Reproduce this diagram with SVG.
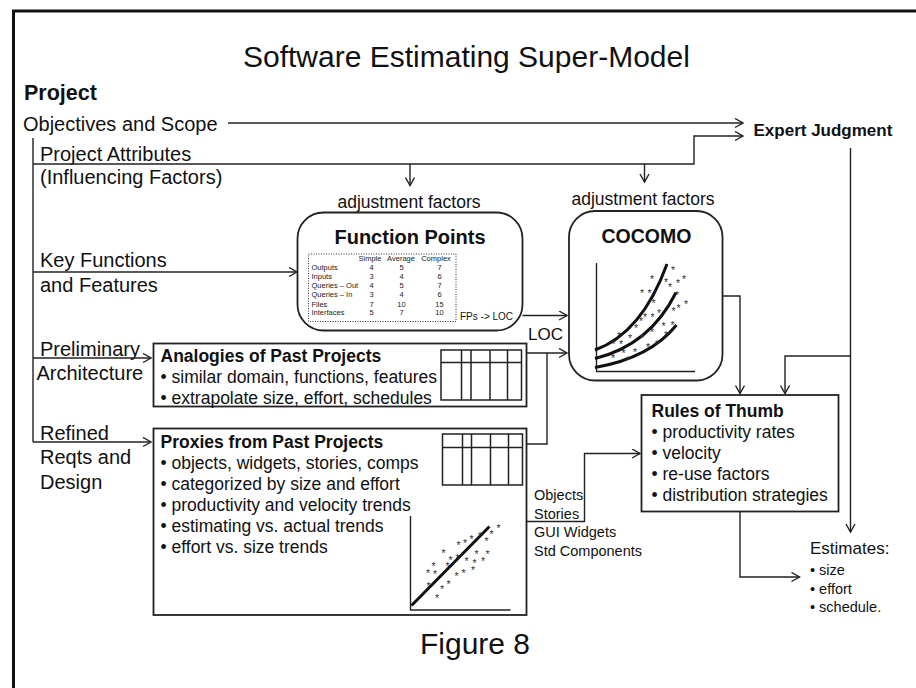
<svg xmlns="http://www.w3.org/2000/svg" width="916" height="688" viewBox="0 0 916 688">
<style>
text{font-family:"Liberation Sans",Arial,sans-serif;fill:#111}
.b{font-weight:bold}
.lbl{font-size:20px}
.body{font-size:17.5px}
.tbl{font-size:7.5px;fill:#222}
.st{font-size:10.5px;fill:#333}
.conn path{fill:none;stroke:#222;stroke-width:1.4}
.box{fill:#fff;stroke:#222;stroke-width:1.8}
.grid{fill:none;stroke:#222;stroke-width:1.5}
.axis{fill:none;stroke:#222;stroke-width:1.4}
.curve{fill:none;stroke:#111;stroke-width:3}
</style>
<defs>
<marker id="arr" markerUnits="userSpaceOnUse" markerWidth="12" markerHeight="12" refX="9" refY="5" orient="auto">
<path d="M1,0.5 L9,5 L1,9.5" fill="none" stroke="#222" stroke-width="1.4"/>
</marker>
</defs>
<rect width="916" height="688" fill="#fff"/>
<rect x="13.5" y="11" width="930" height="700" fill="none" stroke="#111" stroke-width="3"/>

<g id="title"><text x="243" y="67" style="font-size:30px">Software Estimating Super-Model</text></g>
<g id="figure"><text x="420" y="654" style="font-size:30px">Figure 8</text></g>

<g id="project">
<text x="24" y="100" class="b" style="font-size:21.5px">Project</text>
<text x="23" y="131" class="lbl">Objectives and Scope</text>
<text x="40" y="161" class="lbl">Project Attributes</text>
<text x="40" y="184" class="lbl">(Influencing Factors)</text>
<text x="40" y="267" class="lbl">Key Functions</text>
<text x="40" y="292" class="lbl">and Features</text>
<text x="40" y="356" class="lbl">Preliminary</text>
<text x="36.5" y="380" class="lbl">Architecture</text>
<text x="40" y="440" class="lbl">Refined</text>
<text x="40" y="464" class="lbl">Reqts and</text>
<text x="40" y="489" class="lbl">Design</text>
</g>

<g id="expert"><text x="753.5" y="136" class="b" style="font-size:17px">Expert Judgment</text></g>

<g id="function-points">
<text x="409" y="207.5" text-anchor="middle" style="font-size:17.5px">adjustment factors</text>
<rect x="297.5" y="212.5" width="225" height="118" rx="26" class="box"/>
<text x="410" y="243.5" text-anchor="middle" class="b" style="font-size:20px">Function Points</text>
<rect x="308.5" y="254" width="147.5" height="67.5" fill="none" stroke="#333" stroke-width="1" stroke-dasharray="1,1.5"/>
<g>
<text x="370" y="261" text-anchor="middle" class="tbl">Simple</text>
<text x="401" y="261" text-anchor="middle" class="tbl">Average</text>
<text x="436" y="261" text-anchor="middle" class="tbl">Complex</text>
<text x="311.5" y="270" class="tbl">Outputs</text>
<text x="311.5" y="279" class="tbl">Inputs</text>
<text x="311.5" y="288" class="tbl">Queries – Out</text>
<text x="311.5" y="297" class="tbl">Queries – In</text>
<text x="311.5" y="306.5" class="tbl">Files</text>
<text x="311.5" y="315" class="tbl">Interfaces</text>
<text x="371.5" y="270" text-anchor="middle" class="tbl">4</text><text x="401.5" y="270" text-anchor="middle" class="tbl">5</text><text x="439.5" y="270" text-anchor="middle" class="tbl">7</text>
<text x="371.5" y="279" text-anchor="middle" class="tbl">3</text><text x="401.5" y="279" text-anchor="middle" class="tbl">4</text><text x="439.5" y="279" text-anchor="middle" class="tbl">6</text>
<text x="371.5" y="288" text-anchor="middle" class="tbl">4</text><text x="401.5" y="288" text-anchor="middle" class="tbl">5</text><text x="439.5" y="288" text-anchor="middle" class="tbl">7</text>
<text x="371.5" y="297" text-anchor="middle" class="tbl">3</text><text x="401.5" y="297" text-anchor="middle" class="tbl">4</text><text x="439.5" y="297" text-anchor="middle" class="tbl">6</text>
<text x="371.5" y="306.5" text-anchor="middle" class="tbl">7</text><text x="401.5" y="306.5" text-anchor="middle" class="tbl">10</text><text x="439.5" y="306.5" text-anchor="middle" class="tbl">15</text>
<text x="371.5" y="315" text-anchor="middle" class="tbl">5</text><text x="401.5" y="315" text-anchor="middle" class="tbl">7</text><text x="439.5" y="315" text-anchor="middle" class="tbl">10</text>
</g>
<text x="460" y="319.5" style="font-size:10px">FPs -&gt; LOC</text>
</g>

<g id="cocomo">
<text x="643" y="205" text-anchor="middle" style="font-size:17.5px">adjustment factors</text>
<rect x="569" y="211" width="153.5" height="169.5" rx="26" class="box"/>
<text x="646.5" y="242.5" text-anchor="middle" class="b" style="font-size:19.5px">COCOMO</text>
<path d="M596.5,263 V371.5 H695" class="axis"/>
<path d="M595,350 Q642,333 667,264" class="curve"/>
<path d="M595,358.5 Q650,345 676,292.5" class="curve"/>
<path d="M595,367.5 Q650,358 676.5,325" class="curve"/>
<g>
<text x="671" y="274" class="st">*</text><text x="650" y="283" class="st">*</text><text x="664" y="285.5" class="st">*</text><text x="676" y="287" class="st">*</text><text x="682" y="283" class="st">*</text>
<text x="668" y="291" class="st">*</text><text x="640" y="296.5" class="st">*</text><text x="647.5" y="296.5" class="st">*</text><text x="675" y="298.5" class="st">*</text>
<text x="651.5" y="307" class="st">*</text><text x="676.5" y="311.5" class="st">*</text><text x="684" y="307.5" class="st">*</text><text x="671.5" y="314.5" class="st">*</text><text x="657" y="317" class="st">*</text>
<text x="643" y="321" class="st">*</text><text x="650.5" y="321" class="st">*</text><text x="639" y="325" class="st">*</text><text x="661.5" y="330" class="st">*</text>
<text x="670.5" y="328.5" class="st">*</text><text x="634" y="332" class="st">*</text><text x="650" y="336" class="st">*</text><text x="617" y="340" class="st">*</text>
<text x="628" y="341.5" class="st">*</text><text x="640" y="342" class="st">*</text><text x="611.5" y="348" class="st">*</text><text x="619" y="348" class="st">*</text><text x="655" y="347.5" class="st">*</text>
<text x="646" y="351" class="st">*</text><text x="633" y="356" class="st">*</text><text x="621.5" y="356.5" class="st">*</text><text x="626" y="364" class="st">*</text>
<text x="611" y="361.5" class="st">*</text><text x="664" y="338.5" class="st">*</text>
</g>
</g>

<g id="analogies">
<rect x="153.5" y="343.5" width="373" height="63" class="box"/>
<text x="160.5" y="361.5" class="b body">Analogies of Past Projects</text>
<text x="160.5" y="382.5" class="body">• similar domain, functions, features</text>
<text x="160.5" y="403.5" class="body">• extrapolate size, effort, schedules</text>
<path d="M441,350 H521.5 V400 H441 Z M441,362.5 H521.5 M461.5,350 V400 M471,350 V400 M490,350 V400 M507.5,350 V400" class="grid"/>
</g>

<g id="proxies">
<rect x="153.5" y="428.5" width="373" height="186.5" class="box"/>
<text x="160.5" y="447.5" class="b body">Proxies from Past Projects</text>
<text x="160.5" y="468.5" class="body">• objects, widgets, stories, comps</text>
<text x="160.5" y="489.5" class="body">• categorized by size and effort</text>
<text x="160.5" y="510.5" class="body">• productivity and velocity trends</text>
<text x="160.5" y="531.5" class="body">• estimating vs. actual trends</text>
<text x="160.5" y="552.5" class="body">• effort vs. size trends</text>
<path d="M442.5,434 H522.5 V485 H442.5 Z M442.5,447.5 H522.5 M462.5,434 V485 M471.5,434 V485 M490.5,434 V485 M508.5,434 V485" class="grid"/>
<path d="M410.5,516 V610 H510.5" class="axis"/>
<path d="M411.5,605.5 L489.5,526.5" class="curve"/>
<g>
<text x="496.5" y="532" class="st">*</text><text x="489.5" y="538" class="st">*</text><text x="478" y="539.5" class="st">*</text><text x="469.5" y="543" class="st">*</text>
<text x="463" y="546.5" class="st">*</text><text x="456.5" y="548.5" class="st">*</text><text x="484.5" y="544.5" class="st">*</text><text x="474.5" y="558" class="st">*</text><text x="485.5" y="557.5" class="st">*</text>
<text x="481" y="564.5" class="st">*</text><text x="472.5" y="567" class="st">*</text><text x="464.5" y="564.5" class="st">*</text><text x="455.5" y="562" class="st">*</text>
<text x="441.5" y="557" class="st">*</text><text x="448.5" y="563.5" class="st">*</text><text x="445.5" y="570" class="st">*</text>
<text x="431.5" y="570" class="st">*</text><text x="433" y="578" class="st">*</text><text x="426" y="576.5" class="st">*</text><text x="461.5" y="576.5" class="st">*</text><text x="454.5" y="580" class="st">*</text>
<text x="471" y="574" class="st">*</text><text x="446.5" y="587.5" class="st">*</text><text x="440" y="593" class="st">*</text><text x="426.5" y="589.5" class="st">*</text><text x="435" y="601.5" class="st">*</text>
</g>
</g>

<g id="rules">
<rect x="641.5" y="395" width="197" height="116.5" class="box"/>
<text x="651.5" y="416.5" class="b body">Rules of Thumb</text>
<text x="651.5" y="437.5" class="body">• productivity rates</text>
<text x="651.5" y="458.5" class="body">• velocity</text>
<text x="651.5" y="479.5" class="body">• re-use factors</text>
<text x="651.5" y="500.5" class="body">• distribution strategies</text>
</g>

<g id="proxy-types">
<text x="534" y="500" style="font-size:14.5px">Objects</text>
<text x="534" y="518.5" style="font-size:14.5px">Stories</text>
<text x="534" y="537" style="font-size:14.5px">GUI Widgets</text>
<text x="534" y="555.5" style="font-size:14.5px">Std Components</text>
</g>

<g id="estimates">
<text x="810" y="554" style="font-size:17px">Estimates:</text>
<text x="810" y="575" style="font-size:14.5px">• size</text>
<text x="810" y="593.5" style="font-size:14.5px">• effort</text>
<text x="810" y="612" style="font-size:14.5px">• schedule.</text>
</g>

<g id="loc-label"><text x="528" y="340" style="font-size:17px">LOC</text></g>

<g class="conn" id="connectors">
<path d="M228,123 H743" marker-end="url(#arr)"/>
<path d="M33,164 H694 V136 H743" marker-end="url(#arr)"/>
<path d="M410,164 V185.5" marker-end="url(#arr)"/>
<path d="M644.5,164 V182" marker-end="url(#arr)"/>
<path d="M33,138 V442"/>
<path d="M33,272 H297" marker-end="url(#arr)"/>
<path d="M33,358 H151" marker-end="url(#arr)"/>
<path d="M33,442 H151" marker-end="url(#arr)"/>
<path d="M522.5,315.5 H567" marker-end="url(#arr)"/>
<path d="M526.5,353 H567" marker-end="url(#arr)"/>
<path d="M526.5,444 H547 V353"/>
<path d="M722.5,296 H740 V393.5" marker-end="url(#arr)"/>
<path d="M850.5,148 V532" marker-end="url(#arr)"/>
<path d="M850.5,356 H785 V393.5" marker-end="url(#arr)"/>
<path d="M526.5,521.5 H584.5 V453.5 H640" marker-end="url(#arr)"/>
<path d="M740,511.5 V577 H799.5" marker-end="url(#arr)"/>
</g>
</svg>
